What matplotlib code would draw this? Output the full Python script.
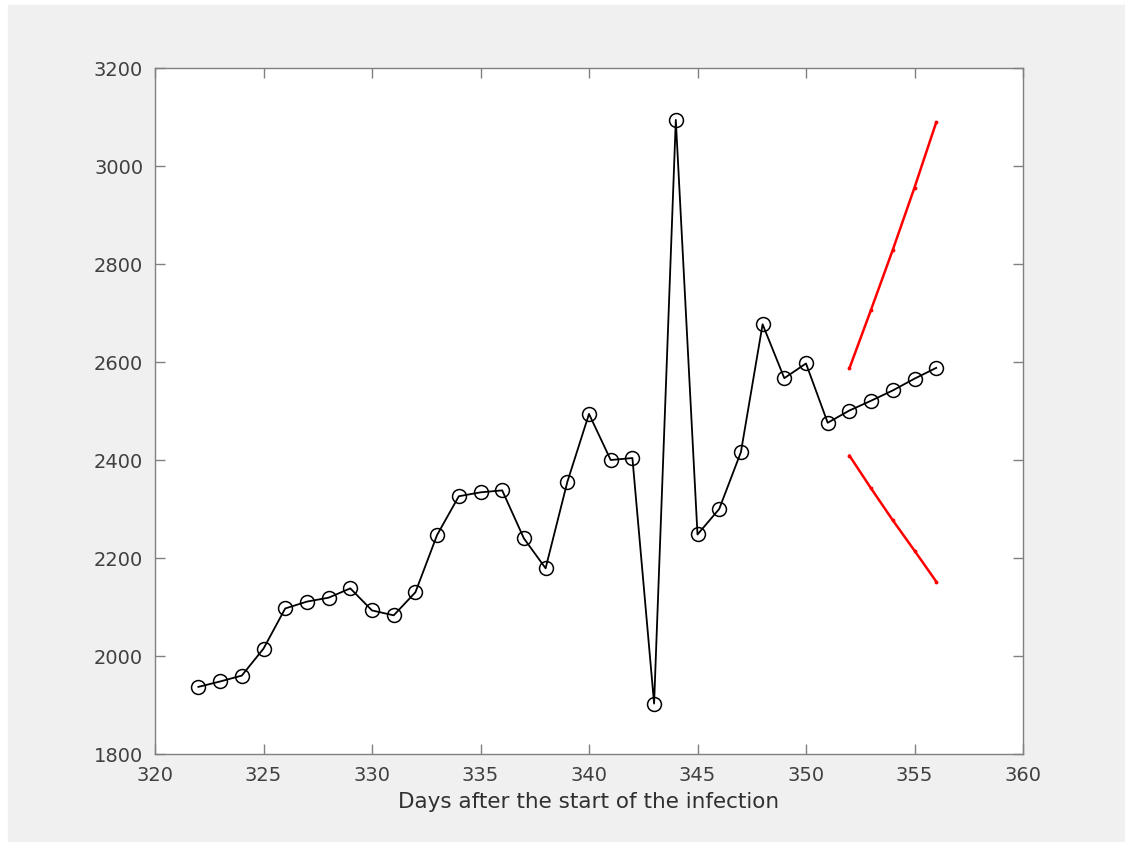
import matplotlib
matplotlib.use("Agg")
import matplotlib.pyplot as plt
from matplotlib.patches import Rectangle

# observed daily values
days = list(range(322, 357))
cases = [1937, 1948, 1960, 2015, 2097, 2111, 2119, 2138, 2093, 2083,
         2130, 2247, 2326, 2334, 2338, 2240, 2179, 2355, 2494, 2400,
         2404, 1903, 3094, 2248, 2300, 2416, 2677, 2567, 2597, 2476,
         2501, 2521, 2542, 2566, 2588]

# confidence bounds for the forecast
bound_days = [352, 353, 354, 355, 356]
upper = [2587, 2707, 2829, 2956, 3089]
lower = [2409, 2342, 2277, 2215, 2152]

fig = plt.figure(figsize=(11.25, 8.42), dpi=100, facecolor="white")
fig.patches.append(Rectangle((8 / 1125, 0), 1, 1 - 5 / 842,
                             transform=fig.transFigure, color="#f0f0f0", zorder=-10))

ax = fig.add_axes([155 / 1125, 1 - 754 / 842, 868 / 1125, 686 / 842])
ax.set_facecolor("white")

ax.plot(days, cases, color="black", linewidth=1.3, marker="o", markersize=10,
        markerfacecolor="none", markeredgecolor="black", markeredgewidth=1.1)
ax.plot(bound_days, upper, color="red", linewidth=1.8, marker=".", markersize=3.5)
ax.plot(bound_days, lower, color="red", linewidth=1.8, marker=".", markersize=3.5)

ax.set_xlim(320, 360)
ax.set_ylim(1800, 3200)
ax.set_xticks(range(320, 361, 5))
ax.set_yticks(range(1800, 3201, 200))

for s in ax.spines.values():
    s.set_color("#808080")
    s.set_linewidth(1.0)
ax.tick_params(direction="in", length=7, width=1.0, color="#808080",
               labelcolor="#404040", labelsize=14, top=True, right=True, pad=8.5)

ax.set_xlabel("Days after the start of the infection", fontsize=15.5,
              color="#303030", labelpad=5)

fig.savefig("out.png", dpi=100, facecolor=fig.get_facecolor())
